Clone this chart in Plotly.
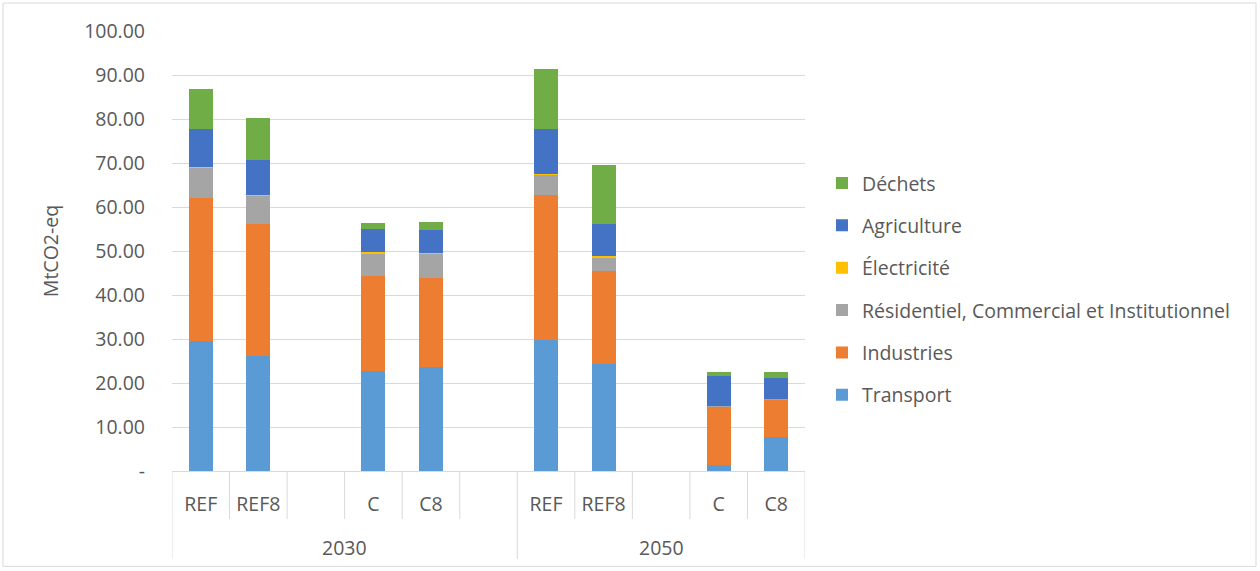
import plotly.graph_objects as go

years = ["2030", "2030", "2030", "2030", "2030", "2030", "2050", "2050", "2050", "2050", "2050"]
scenarios = ["REF", "REF8", "", "C", "C8", "", "REF", "REF8", "", "C", "C8"]

transport = [29.5, 26.2, None, 22.7, 23.7, None, 29.7, 24.3, None, 1.3, 7.8]
industries = [32.6, 29.9, None, 21.6, 20.1, None, 33.1, 21.1, None, 13.4, 8.5]
residentiel = [6.9, 6.6, None, 5.1, 5.6, None, 4.5, 3.2, None, 0.1, 0.1]
electricite = [0.1, 0.1, None, 0.3, 0.2, None, 0.1, 0.2, None, 0.0, 0.0]
agriculture = [8.7, 7.9, None, 5.4, 5.1, None, 10.4, 7.4, None, 6.9, 4.7]
dechets = [9.1, 9.5, None, 1.3, 1.8, None, 13.6, 13.4, None, 0.9, 1.3]

series = [
    ("Transport", transport, "#5B9BD5"),
    ("Industries", industries, "#ED7D31"),
    ("Résidentiel, Commercial et Institutionnel", residentiel, "#A5A5A5"),
    ("Électricité", electricite, "#FFC000"),
    ("Agriculture", agriculture, "#4472C4"),
    ("Déchets", dechets, "#70AD47"),
]

ytick_vals = [0, 10, 20, 30, 40, 50, 60, 70, 80, 90, 100]
ytick_text = ["-", "10.00", "20.00", "30.00", "40.00", "50.00", "60.00", "70.00", "80.00", "90.00", "100.00"]

keys = [f"{y}|{s}|{i}" for i, (y, s) in enumerate(zip(years, scenarios))]

fig = go.Figure()
for k, (name, vals, col) in enumerate(series):
    fig.add_trace(go.Bar(x=keys, y=vals, name=name, marker_color=col,
                         marker_line_width=0, legendgroup=name,
                         legendrank=100 - k))

W, H = 1260, 571
L, R, T, B = 172, 455, 31, 99.5
pw = W - L - R
ph = H - T - B

font = "Open Sans"
fs = 19.5
txtcol = "#595959"

shapes = []
annotations = []
n = len(keys)
inner_y1 = -48 / ph
outer_y1 = -88 / ph
for i in range(n + 1):
    xpos = i - 0.5
    is_group = (i == 0) or (i == n) or (years[i] != years[i - 1])
    shapes.append(dict(type="line", xref="x", yref="paper", x0=xpos, x1=xpos,
                       y0=0, y1=outer_y1 if is_group else inner_y1,
                       line=dict(color="#D9D9D9", width=1)))
for yr in dict.fromkeys(years):
    idx = [i for i, v in enumerate(years) if v == yr]
    annotations.append(dict(x=sum(idx) / len(idx), xref="x", y=-77 / ph, yref="paper",
                            text=yr, showarrow=False, yanchor="middle",
                            font=dict(family=font, size=fs, color=txtcol)))
shapes.append(dict(type="rect", xref="paper", yref="paper",
                   x0=(3 - L) / pw, x1=(1256 - L) / pw,
                   y0=(ph + T - 567) / ph, y1=(ph + T - 3) / ph,
                   line=dict(color="#D9D9D9", width=1)))

fig.update_layout(
    width=W, height=H, autosize=False,
    margin=dict(l=L, r=R, t=T, b=B),
    barmode="stack", bargap=0.58,
    plot_bgcolor="white", paper_bgcolor="white",
    font=dict(family=font, size=fs, color=txtcol),
    showlegend=True,
    legend=dict(x=(822 - L) / pw, xanchor="left", y=(ph + T - 164) / ph, yanchor="top",
                traceorder="grouped", tracegroupgap=14,
                font=dict(family=font, size=fs, color=txtcol),
                itemwidth=30),
    shapes=shapes, annotations=annotations,
)
fig.update_xaxes(type="category", tickvals=keys, ticktext=scenarios,
                 showline=True, linecolor="#D9D9D9", linewidth=1,
                 showgrid=False, ticks="", ticklabelstandoff=16,
                 tickfont=dict(family=font, size=fs, color=txtcol),
                 range=[-0.5, n - 0.5])
fig.update_yaxes(range=[0, 100], tickvals=ytick_vals, ticktext=ytick_text,
                 showgrid=True, gridcolor="#D9D9D9", gridwidth=1,
                 zeroline=False, showline=False, ticks="",
                 ticklabelstandoff=26,
                 tickfont=dict(family=font, size=fs, color=txtcol),
                 title=dict(text="MtCO2-eq", font=dict(family=font, size=fs, color=txtcol),
                            standoff=20))

fig.write_html("out.html", config={"displayModeBar": False},
               post_script="document.body.style.margin='0px';")
